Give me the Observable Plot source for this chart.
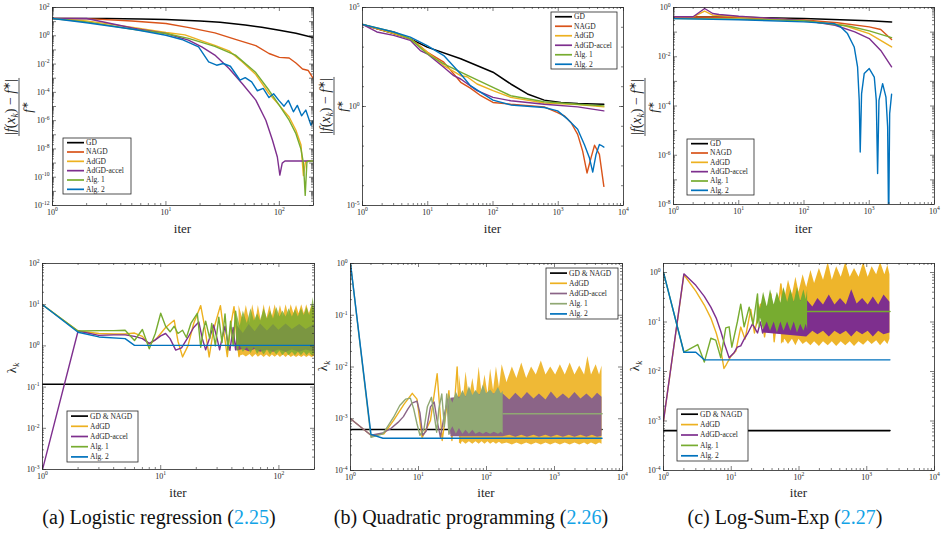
<!DOCTYPE html>
<html>
<head>
<meta charset="utf-8">
<script src="https://cdn.jsdelivr.net/npm/d3@7"></script>
<script src="https://cdn.jsdelivr.net/npm/@observablehq/plot@0.6"></script>
<style>
  html,body{margin:0;padding:0;background:#fff;}
  #root{position:relative;width:941px;height:535px;overflow:hidden;background:#fff;}
  #root > svg{position:absolute;}
</style>
</head>
<body>
<div id="root"></div>
<script>
// ---------------- DATA (iteration, value) ----------------
// (a) Logistic regression: relative error
const a_GD    = [[1,16.6],[3,16.4],[6,15.5],[10,14],[20,11],[30,9],[50,5.8],[70,4],[100,2.5],[140,1.5],[200,0.75]];
const a_NAGD  = [[1,16.6],[2,16.3],[5,11],[10,7.4],[16,3.8],[27,1.6],[41,0.55],[62,0.2],[81,0.056],[100,0.03],[122,0.027],[140,0.012],[160,0.0045],[180,0.0035],[200,0.0009]];
const a_AdGD  = [[1,16.6],[2,11.4],[5.3,3.8],[10,1.7],[14.7,1.17],[18,0.65],[20.7,0.44],[27,0.21],[36,0.086],[47,0.0144],[62,0.0018],[81,8.3e-5],[100,1.2e-5],[122,1.8e-6],[140,2.1e-7],[155,2e-8],[163,1.3e-10],[170,1.2e-9],[180,1.4e-9],[200,1.4e-9]];
const a_ACC   = [[1,16.6],[2,16.6],[5.3,3.3],[10,1.45],[15.8,0.49],[20.7,0.165],[27,0.043],[36,0.0048],[47,4.2e-4],[62,2.8e-5],[76,1.07e-6],[87,4.1e-8],[96,2.7e-9],[101,1.4e-10],[106,1e-9],[112,1.4e-9],[200,1.4e-9]];
const a_ALG1  = [[1,16.6],[2,9.7],[5.3,2.8],[10,1.45],[15.8,0.65],[27,0.18],[41,0.043],[62,0.0025],[81,1.4e-4],[100,1.2e-5],[122,1.07e-6],[140,1.2e-7],[155,1e-8],[163,1e-9],[169,5.2e-12],[175,1.2e-9],[185,1.4e-9],[200,1.4e-9]];
const a_ALG2  = [[1,16.6],[2,8.3],[5.3,2.8],[10,1.1],[13.8,0.55],[19.4,0.165],[23.8,0.0144],[28,0.0083],[32,0.011],[37,0.007],[45,7.2e-4],[50,0.0011],[57,5.5e-4],[64,1.3e-4],[72,1.9e-4],[81,4.3e-5],[89,8e-5],[99,2.7e-5],[110,1.05e-5],[120,2.7e-5],[133,4.2e-6],[144,1.2e-5],[157,2.2e-6],[171,5.6e-6],[190,4.7e-7],[200,1.07e-6]];

// (b) Quadratic programming: relative error
const b_GD    = [[1,1.4e4],[3,4.8e3],[5.4,2.6e3],[9.8,1.0e3],[32,257],[100,54],[187,13.7],[337,4.3],[609,2.1],[1100,1.6],[2000,1.4],[5000,1.3]];
const b_NAGD  = [[1,1.4e4],[1.66,8.5e3],[3,5.8e3],[5.4,2.6e3],[6.9,1.48e3],[9.8,560],[17.6,174],[32,16.7],[45,8.5],[65,3.5],[100,1.6],[187,1.3],[609,0.96],[977,0.49],[1237,0.34],[1567,0.155],[1983,0.039],[2366,0.0056],[2760,4.4e-4],[3184,0.0026],[3600,0.011],[4274,0.0038],[5000,9.3e-5]];
const b_AdGD  = [[1,1.4e4],[3,4.8e3],[5.4,2.6e3],[9.8,560],[17.6,117],[32,36],[40,32],[57,13.7],[100,6.3],[187,2.9],[609,1.5],[1983,1.25],[5000,0.96]];
const b_ACC   = [[1,1.4e4],[1.66,5.8e3],[3,3.9e3],[5.4,2.2e3],[7.7,670],[9.8,460],[17.6,96],[25,36],[32,24.5],[57,6.3],[100,2.9],[187,1.95],[609,1.3],[1983,0.96],[5000,0.6]];
const b_ALG1  = [[1,1.4e4],[3,5.8e3],[5.4,2.6e3],[9.8,460],[17.6,142],[32,54],[57,22],[100,9.3],[187,3.5],[609,1.73],[1983,1.3],[5000,1.07]];
const b_ALG2  = [[1,1.4e4],[3,5.8e3],[5.4,3.2e3],[9.8,1.2e3],[17.6,375],[32,44],[45,11.3],[65,5.2],[100,2.1],[187,1.2],[609,0.89],[977,0.6],[1393,0.23],[1983,0.071],[2512,0.012],[3000,0.0026],[3376,4.9e-4],[3796,0.0038],[4274,0.012],[4530,0.011],[5000,0.0089]];

// (c) Log-Sum-Exp: relative error
const c_GD    = [[1,0.42],[10,0.40],[100,0.36],[1000,0.29],[2200,0.26]];
const c_NAGD  = [[1,0.42],[10,0.39],[100,0.31],[324,0.24],[1000,0.163],[1500,0.128],[2200,0.05]];
const c_AdGD  = [[1,0.42],[2,0.42],[3,0.71],[4,0.49],[10,0.42],[100,0.29],[400,0.19],[1000,0.087],[2200,0.025]];
const c_ACC   = [[1,0.42],[2,0.42],[3,0.91],[4,0.57],[5,0.52],[10,0.44],[100,0.30],[300,0.19],[600,0.102],[1000,0.055],[1500,0.018],[2200,0.0039]];
const c_ALG1  = [[1,0.355],[10,0.34],[100,0.29],[500,0.174],[1000,0.112],[2200,0.06]];
const c_ALG2  = [[1,0.355],[10,0.32],[100,0.26],[290,0.22],[366,0.163],[464,0.087],[588,0.025],[662,0.0039],[702,1.7e-4],[727,1.35e-6],[763,3.2e-4],[838,2.1e-3],[1000,3.3e-3],[1194,1.5e-3],[1282,1.7e-4],[1343,1.8e-7],[1409,1.7e-4],[1603,8.1e-4],[1803,2.3e-4],[1914,1.4e-5],[1983,1e-9],[2055,4.9e-5],[2200,3e-4]];

// (d) Logistic regression: step size lambda_k   (bands: [iter, low, high] of the dense oscillation)
const d_GD        = [[1,0.117],[200,0.117]];
const d_AdGD      = [[1,10],[2,2.3],[3,2.0],[4,1.95],[5,1.95],[6,2.05],[7,1.7],[8,1.1],[9,1.4],[10,2.0],[11,2.8],[13,4.2],[14,1.3],[15.3,0.54],[17,1.0],[19,3.5],[21.8,9.5],[23.5,3],[25.7,0.54],[28,2.5],[32,9.5],[34,2.5],[36.6,0.55],[39,3],[41.7,9],[44,1.5],[46,0.55],[49,5]];
const d_AdGD_band = [[46,0.55,9.5],[50,0.6,4],[53,0.54,9.5],[57,0.62,3.5],[60,0.52,10],[64,0.62,4],[67,0.53,9.5],[71,0.6,4],[75,0.52,10],[79,0.6,4.5],[84,0.52,9.5],[88,0.6,5],[93,0.53,10],[98,0.6,5],[103,0.52,9.5],[109,0.6,5],[115,0.52,10],[121,0.6,5.5],[127,0.52,10],[134,0.58,6],[141,0.52,9.5],[148,0.58,6],[156,0.52,10],[164,0.58,6],[172,0.52,10],[181,0.58,6],[190,0.52,9.5],[200,0.55,8]];
const d_ACC       = [[1,0.001],[2,2.3],[3,1.8],[4,1.85],[5,1.85],[6,1.7],[7,1.5],[8,1.15],[9,1.4],[10,1.75],[11,2.0],[12,1.5],[13.4,0.79],[15,0.9],[17,1.6],[19,2.8],[21,3.8],[22.5,1.5],[24,0.8],[26,1.6],[28,3.2],[30,1.5],[31.5,0.8],[33,1.5],[35,3.0],[37,1.2],[38.5,0.78],[41,2.8],[43,0.8],[45,2.5]];
const d_ACC_band  = [[44,0.75,3.2],[50,0.82,2],[56,0.72,3.3],[63,0.82,2.2],[70,0.7,3.4],[80,0.8,2.3],[90,0.7,3.3],[100,0.8,2.4],[115,0.7,3.4],[130,0.8,2.5],[150,0.7,3.3],[170,0.8,2.5],[200,0.7,3.3]];
const d_ALG1      = [[1,10],[2,2.3],[3,2.35],[4,2.35],[5,2.4],[6,1.35],[7,2.5],[8,0.85],[9,2.0],[10,6.2],[11,3.0],[12,2.2],[13,3.0],[14,2.0],[15.3,2.4],[16.5,1.6],[18,3.5],[20.4,6.2],[21.8,0.93],[23,2.5],[24,4],[26,1.5],[27,3.5],[29,1.0],[31,5],[33,1.2],[35,6],[37,0.8],[39,4],[41,1],[43,7],[45,0.8]];
const d_ALG1_band = [[44,0.8,6.5],[47,1.0,3],[50,0.7,7],[54,0.9,3.5],[58,0.65,8],[62,0.9,4],[66,0.62,6],[70,0.8,4],[75,0.6,8],[80,0.8,4.5],[85,0.6,7],[90,0.75,4.5],[96,0.6,8.5],[102,0.75,5],[108,0.58,7],[115,0.72,5],[122,0.58,8],[130,0.7,5],[138,0.58,7.5],[146,0.7,5],[155,0.58,8],[164,0.7,5.5],[173,0.58,8.5],[182,0.68,5.5],[190,0.58,9],[195,0.6,15],[200,0.62,8]];
const d_ALG2      = [[1,10],[2,2.15],[3,1.65],[5,1.5],[6,1.03],[200,1.03]];

// (e) Quadratic programming: step size lambda_k
const e_GD        = [[1,6.2e-4],[5000,6.2e-4]];
const e_AdGD      = [[1,1e-3],[2,4.8e-4],[3.1,5.1e-4],[4.3,9.3e-4],[6.1,1.9e-3],[8.1,3.1e-3],[9.5,2.4e-3],[11.3,4.3e-4],[15,9.3e-4],[18.8,7.4e-3],[22.3,3.8e-4],[28,3.5e-3],[31,3.8e-4],[37,1e-2],[41.5,3.4e-4]];
const e_AdGD_band = [[40,3.3e-4,7e-3],[45,3.6e-4,2e-3],[50,3.2e-4,8e-3],[56,3.6e-4,2.5e-3],[63,3.2e-4,6e-3],[70,3.6e-4,2.5e-3],[78,3.2e-4,1e-2],[86,3.6e-4,3e-3],[95,3.2e-4,7e-3],[105,3.6e-4,3e-3],[115,3.2e-4,9e-3],[127,3.5e-4,3.5e-3],[140,3.2e-4,1e-2],[155,3.5e-4,4e-3],[170,3.2e-4,1.1e-2],[200,3.4e-4,5e-3],[240,3.1e-4,1e-2],[280,3.4e-4,6e-3],[330,3.1e-4,1.2e-2],[390,3.4e-4,6e-3],[460,3.1e-4,1e-2],[540,3.4e-4,7e-3],[640,3.1e-4,1.3e-2],[750,3.4e-4,7e-3],[880,3.1e-4,1e-2],[1040,3.4e-4,7e-3],[1220,3.1e-4,1.1e-2],[1440,3.4e-4,7e-3],[1700,3.1e-4,1.2e-2],[2000,3.4e-4,7e-3],[2350,3.1e-4,1.05e-2],[2770,3.4e-4,7e-3],[3100,3.1e-4,1.6e-2],[3500,3.4e-4,7e-3],[4100,3.1e-4,1.1e-2],[4600,3.4e-4,7e-3],[5000,3.2e-4,1.05e-2]];
const e_ACC       = [[1,1e-3],[2,4.8e-4],[3,5.3e-4],[4,6.6e-4],[5,8.5e-4],[6,1.1e-3],[7,1.55e-3],[8,2e-3],[9.5,2.2e-3],[10.5,1.3e-3],[11.5,4.8e-4],[13,5.8e-4],[15,1.7e-3],[17,2.1e-3],[19,8.4e-4],[21,4.4e-4],[24,1.2e-3],[27,2.4e-3],[29,5.2e-4],[32,2e-3]];
const e_ACC_band  = [[30,4.5e-4,2.5e-3],[100,4.5e-4,3e-3],[176,4.5e-4,3e-3],[220,4.8e-4,2.3e-3],[270,4.4e-4,3.1e-3],[330,4.8e-4,2.4e-3],[400,4.4e-4,3.2e-3],[500,4.8e-4,2.4e-3],[600,4.4e-4,3e-3],[750,4.8e-4,2.3e-3],[900,4.4e-4,3.3e-3],[1100,4.8e-4,2.4e-3],[1350,4.4e-4,3e-3],[1650,4.8e-4,2.4e-3],[2000,4.4e-4,3.2e-3],[2450,4.8e-4,2.4e-3],[3000,4.4e-4,3e-3],[3600,4.8e-4,2.4e-3],[4300,4.4e-4,3.1e-3],[5000,4.6e-4,2.6e-3]];
const e_ALG1      = [[1,1],[2,4.4e-4],[3,5.1e-4],[4.3,1.07e-3],[5.3,1.8e-3],[6.5,2.4e-3],[7.6,2.5e-3],[8.5,1.55e-3],[9.5,8e-4],[10.5,4.8e-4],[12,6.2e-4],[13.5,1.7e-3],[15.5,2.6e-3],[17,1.2e-3],[18.5,5.5e-4],[20,1.6e-3],[22,3e-3],[24,7e-4],[26,3e-3],[28,5e-4]];
const e_ALG1_band = [[28,5e-4,3e-3],[32,7e-4,2e-3],[36,5e-4,3.3e-3],[40,6.5e-4,2.4e-3],[45,5e-4,3.5e-3],[50,6e-4,2.6e-3],[56,5e-4,4.2e-3],[63,6e-4,2.8e-3],[70,5e-4,3.5e-3],[80,5.5e-4,2.8e-3],[90,5e-4,4.5e-3],[100,5.5e-4,3e-3],[115,5e-4,3.6e-3],[130,5.5e-4,2.9e-3],[150,5e-4,4e-3],[165,5.5e-4,3e-3],[176,5e-4,3.4e-3]];
const e_ALG1_tail = [[176,1.25e-3],[5000,1.25e-3]];
const e_ALG2      = [[1,1],[2,5e-4],[3,4.2e-4],[5000,4.2e-4]];

// (f) Log-Sum-Exp: step size lambda_k
const f_GD        = [[1,6.4e-4],[2200,6.4e-4]];
const f_AdGD      = [[1,1e-3],[2,0.9],[3,0.42],[4,0.22],[5,0.12],[6,0.06],[7,0.028],[7.8,0.0115],[8.5,0.014],[9.8,0.02],[11.7,0.026],[13.8,0.079],[16,0.045],[19.4,0.18],[22,0.06],[27,0.23],[31,0.05],[38.5,0.37],[43,0.04],[54,0.59],[58,0.04]];
const f_AdGD_band = [[55,0.035,0.6],[62,0.045,0.3],[70,0.035,0.7],[80,0.045,0.35],[90,0.033,0.8],[100,0.045,0.4],[115,0.035,0.9],[130,0.04,0.5],[150,0.033,1.1],[170,0.04,0.6],[200,0.032,1.2],[230,0.04,0.7],[270,0.033,1.6],[310,0.04,0.7],[360,0.032,1.3],[420,0.04,0.8],[490,0.033,1.6],[570,0.04,0.8],[660,0.032,1.2],[770,0.04,0.8],[900,0.034,1.6],[1050,0.042,0.8],[1200,0.035,1.3],[1400,0.042,0.9],[1600,0.033,1.6],[1850,0.042,0.9],[2050,0.035,1.4],[2200,0.045,0.9]];
const f_ACC       = [[1,1e-3],[2,0.94],[3,0.55],[4,0.33],[5,0.2],[6,0.12],[7,0.065],[8,0.035],[9.3,0.019],[11,0.024],[12.3,0.031],[13.8,0.033],[15.5,0.045],[17.4,0.058],[20.6,0.092],[24.4,0.06],[27,0.1],[29,0.06],[33,0.12]];
const f_ACC_band  = [[30,0.06,0.2],[130,0.05,0.28],[160,0.065,0.2],[190,0.055,0.3],[230,0.065,0.22],[280,0.05,0.35],[340,0.065,0.22],[410,0.055,0.3],[500,0.065,0.22],[600,0.05,0.45],[720,0.065,0.23],[870,0.055,0.3],[1050,0.065,0.22],[1250,0.05,0.32],[1500,0.065,0.22],[1800,0.055,0.35],[2200,0.06,0.25]];
const f_ALG1      = [[1,1],[2,0.0245],[3.2,0.035],[4,0.0155],[5,0.047],[5.9,0.043],[7,0.019],[8.3,0.076],[9.3,0.08],[10.2,0.031],[12.3,0.1],[13.8,0.23],[15.5,0.08],[18.4,0.2],[21,0.09],[24.4,0.37],[26,0.08]];
const f_ALG1_band = [[24,0.08,0.3],[27,0.12,0.18],[30,0.07,0.4],[34,0.1,0.2],[38,0.065,0.45],[43,0.1,0.22],[48,0.06,0.4],[54,0.1,0.24],[60,0.065,0.5],[68,0.1,0.25],[76,0.065,0.45],[85,0.1,0.25],[95,0.06,0.5],[106,0.09,0.26],[118,0.065,0.45],[128,0.09,0.28],[134,0.07,0.45]];
const f_ALG1_tail = [[134,0.163],[2200,0.163]];
const f_ALG2      = [[1,1],[2,0.0245],[3,0.0245],[4,0.0172],[2200,0.0172]];

// legend / caption text
const topNames    = ["GD","NAGD","AdGD","AdGD-accel","Alg. 1","Alg. 2"];
const bottomNames = ["GD & NAGD","AdGD","AdGD-accel","Alg. 1","Alg. 2"];
const captionText = [["(a) Logistic regression (","2.25",")"],["(b) Quadratic programming (","2.26",")"],["(c) Log-Sum-Exp (","2.27",")"]];

// ---------------- STYLE ----------------
const FONT = '"Liberation Serif", serif';
const AX = "#262626";
const C = {GD:"#000000", NAGD:"#D95319", AdGD:"#EDB120", ACC:"#7E2F8E", ALG1:"#77AC30", ALG2:"#0072BD"};
const CE = {ACC:"#8B6487", ALG1:"#90A873"};

const dec = (a,b) => d3.range(a,b+1).map(k => Math.pow(10,k));
const minors = (a,b,max=Infinity) => { const out=[]; for(let k=a;k<b;k++) for(let m=2;m<=9;m++){const v=m*Math.pow(10,k); if(v<=max*1.0001) out.push(v);} return out; };
const L = (data,color,width=1.4) => ({type:"line",data,color,width});
const B = (data,color,opacity=1) => ({type:"band",data,color,opacity});

const panels = [
 {box:{l:52,t:7,r:313,b:205}, xd:[1,200], yd:[1e-12,1e2],
  xLab:dec(0,2), yLab:[1e-12,1e-10,1e-8,1e-6,1e-4,1e-2,1,1e2],
  xMaj:dec(0,2), xMin:minors(0,3,200), yMaj:dec(-12,2), yMin:minors(-12,2),
  layers:[L(a_GD,C.GD,1.5),L(a_NAGD,C.NAGD),L(a_AdGD,C.AdGD),L(a_ACC,C.ACC),L(a_ALG1,C.ALG1),L(a_ALG2,C.ALG2)]},
 {box:{l:362,t:7,r:623,b:205}, xd:[1,1e4], yd:[1e-5,1e5],
  xLab:dec(0,4), yLab:[1e-5,1,1e5],
  xMaj:dec(0,4), xMin:minors(0,4), yMaj:[1e-5,1,1e5], yMin:dec(-5,5),
  layers:[L(b_GD,C.GD,1.5),L(b_NAGD,C.NAGD),L(b_AdGD,C.AdGD),L(b_ACC,C.ACC),L(b_ALG1,C.ALG1),L(b_ALG2,C.ALG2)]},
 {box:{l:673,t:7,r:934,b:204}, xd:[1,1e4], yd:[1e-8,1],
  xLab:dec(0,4), yLab:[1e-8,1e-6,1e-4,1e-2,1],
  xMaj:dec(0,4), xMin:minors(0,4), yMaj:dec(-8,0), yMin:minors(-8,0),
  layers:[L(c_GD,C.GD,1.5),L(c_NAGD,C.NAGD),L(c_AdGD,C.AdGD),L(c_ACC,C.ACC),L(c_ALG1,C.ALG1),L(c_ALG2,C.ALG2)]},
 {box:{l:42,t:263,r:314,b:469}, xd:[1,200], yd:[1e-3,1e2],
  xLab:dec(0,2), yLab:dec(-3,2),
  xMaj:dec(0,2), xMin:minors(0,3,200), yMaj:dec(-3,2), yMin:minors(-3,2),
  layers:[L(d_GD,C.GD,1.6),B(d_AdGD_band,C.AdGD,0.9),L(d_AdGD,C.AdGD),B(d_ACC_band,C.ACC,0.9),L(d_ACC,C.ACC),B(d_ALG1_band,C.ALG1,0.8),L(d_ALG1,C.ALG1),L(d_ALG2,C.ALG2)]},
 {box:{l:350,t:263,r:622,b:470}, xd:[1,1e4], yd:[1e-4,1],
  xLab:dec(0,4), yLab:dec(-4,0),
  xMaj:dec(0,4), xMin:minors(0,4), yMaj:dec(-4,0), yMin:minors(-4,0),
  layers:[L(e_GD,C.GD,1.6),B(e_AdGD_band,C.AdGD,0.9),L(e_AdGD,C.AdGD),B(e_ACC_band,CE.ACC,1),L(e_ACC,CE.ACC),B(e_ALG1_band,CE.ALG1,1),L(e_ALG1,CE.ALG1),L(e_ALG1_tail,CE.ALG1,1.6),L(e_ALG2,C.ALG2)]},
 {box:{l:663,t:263,r:934,b:470}, xd:[1,1e4], yd:[1e-4,1.52],
  xLab:dec(0,4), yLab:dec(-4,0),
  xMaj:dec(0,4), xMin:minors(0,4), yMaj:dec(-4,0), yMin:minors(-4,0),
  layers:[L(f_GD,C.GD,1.6),B(f_AdGD_band,C.AdGD,0.95),L(f_AdGD,C.AdGD),B(f_ACC_band,C.ACC,1),L(f_ACC,C.ACC),B(f_ALG1_band,C.ALG1,1),L(f_ALG1,C.ALG1),L(f_ALG1_tail,C.ALG1,1.6),L(f_ALG2,C.ALG2)]}
];

const root = document.getElementById("root");
const NS = "http://www.w3.org/2000/svg";
const fmt = d => "10^" + Math.round(Math.log10(d));

function supify(svg){
  svg.querySelectorAll("text").forEach(t => {
    const m = /^10\^(-?\d+)$/.exec(t.textContent.trim());
    if (!m) return;
    while (t.firstChild) t.removeChild(t.firstChild);
    const a = document.createElementNS(NS,"tspan"); a.textContent = "10";
    const b = document.createElementNS(NS,"tspan"); b.textContent = m[1];
    b.setAttribute("font-size","5.6"); b.setAttribute("dy","-3.3");
    t.appendChild(a); t.appendChild(b);
  });
}

function renderPanel(p){
  const ML=36, MR=10, MT=6, MB=24;
  const w = p.box.r - p.box.l, h = p.box.b - p.box.t;
  const marks = [];
  for (const ly of p.layers) {
    if (ly.type === "band") {
      marks.push(Plot.areaY(ly.data, {x: d=>d[0], y1: d=>d[1], y2: d=>d[2], fill: ly.color, fillOpacity: ly.opacity, clip: true}));
    } else {
      marks.push(Plot.line(ly.data, {x: d=>d[0], y: d=>d[1], stroke: ly.color, strokeWidth: ly.width, clip: true}));
    }
  }
  const tk = {stroke: AX, strokeWidth: 0.6};
  const MJ = 4, MN = 2;
  marks.push(
    Plot.tickX(p.xMaj, {x: d=>d, insetTop: h-MJ, ...tk}),
    Plot.tickX(p.xMaj, {x: d=>d, insetBottom: h-MJ, ...tk}),
    Plot.tickX(p.xMin, {x: d=>d, insetTop: h-MN, ...tk}),
    Plot.tickX(p.xMin, {x: d=>d, insetBottom: h-MN, ...tk}),
    Plot.tickY(p.yMaj, {y: d=>d, insetRight: w-MJ, ...tk}),
    Plot.tickY(p.yMaj, {y: d=>d, insetLeft: w-MJ, ...tk}),
    Plot.tickY(p.yMin, {y: d=>d, insetRight: w-MN, ...tk}),
    Plot.tickY(p.yMin, {y: d=>d, insetLeft: w-MN, ...tk}),
    Plot.frame({stroke: AX, strokeWidth: 0.8}),
    Plot.text(p.xLab, {x: d=>d, frameAnchor: "bottom", dy: 9, text: fmt, fontSize: 8, fill: AX}),
    Plot.text(p.yLab, {y: d=>d, frameAnchor: "left", dx: -3, textAnchor: "end", text: fmt, fontSize: 8, fill: AX})
  );
  const svg = Plot.plot({
    width: w+ML+MR, height: h+MT+MB,
    marginLeft: ML, marginRight: MR, marginTop: MT, marginBottom: MB,
    x: {type: "log", domain: p.xd, axis: null},
    y: {type: "log", domain: p.yd, axis: null},
    style: {background: "transparent", fontFamily: FONT, overflow: "visible"},
    marks
  });
  svg.style.left = (p.box.l - ML) + "px";
  svg.style.top = (p.box.t - MT) + "px";
  root.appendChild(svg);
  supify(svg);
}
panels.forEach(renderPanel);

// ---------------- overlay: legends, axis titles, captions ----------------
const ov = d3.select(root).append("svg").attr("width",941).attr("height",535)
  .style("left","0px").style("top","0px").style("font-family",FONT);

function legend(box, names, colors){
  const [x0,y0,x1,y1] = box;
  const g = ov.append("g");
  g.append("rect").attr("x",x0).attr("y",y0).attr("width",x1-x0).attr("height",y1-y0)
    .attr("fill","#fff").attr("stroke",AX).attr("stroke-width",0.8);
  const step = (y1-y0)/names.length;
  names.forEach((nm,i) => {
    const cy = y0 + step*(i+0.5);
    g.append("line").attr("x1",x0+4).attr("x2",x0+21).attr("y1",cy).attr("y2",cy)
      .attr("stroke",colors[i]).attr("stroke-width",1.7);
    g.append("text").attr("x",x0+23).attr("y",cy).attr("dy","0.33em")
      .attr("font-size",7.5).attr("fill",AX).text(nm);
  });
}
const topColors = [C.GD,C.NAGD,C.AdGD,C.ACC,C.ALG1,C.ALG2];
legend([63,138,131,194], topNames, topColors);
legend([551,12,617,69], topNames, topColors);
legend([687,139,754,195], topNames, topColors);
legend([67,411,138,462], bottomNames, [C.GD,C.AdGD,C.ACC,C.ALG1,C.ALG2]);
legend([546,268,618,319], bottomNames, [C.GD,C.AdGD,CE.ACC,CE.ALG1,C.ALG2]);
legend([677,409,748,461], bottomNames, [C.GD,C.AdGD,C.ACC,C.ALG1,C.ALG2]);

function fracLabel(cx, cy){
  const g = ov.append("g").attr("transform",`translate(${cx},${cy}) rotate(-90)`).attr("fill",AX);
  const num = g.append("text").attr("text-anchor","middle").attr("y",-4).attr("font-size",14);
  num.append("tspan").text("|");
  num.append("tspan").attr("font-style","italic").text("f");
  num.append("tspan").text("(");
  num.append("tspan").attr("font-style","italic").text("x");
  num.append("tspan").attr("font-style","italic").attr("font-size",9.5).attr("dy",3).text("k");
  num.append("tspan").attr("dy",-3).text(") − ");
  num.append("tspan").attr("font-style","italic").text("f");
  num.append("tspan").attr("font-size",9.5).attr("dy",-5).text("∗");
  num.append("tspan").attr("dy",5).text("|");
  const den = g.append("text").attr("text-anchor","middle").attr("y",13).attr("font-size",13);
  den.append("tspan").attr("font-style","italic").text("f");
  den.append("tspan").attr("font-size",9).attr("dy",-4.5).text("∗");
  const nw = num.node().getComputedTextLength();
  g.append("line").attr("x1",-nw/2-1).attr("x2",nw/2+1).attr("y1",0).attr("y2",0)
    .attr("stroke",AX).attr("stroke-width",0.8);
}
fracLabel(19,107); fracLabel(334,106); fracLabel(645,107);

function lamLabel(cx, cy){
  const t = ov.append("text").attr("transform",`translate(${cx},${cy}) rotate(-90)`)
    .attr("text-anchor","middle").attr("font-size",13).attr("fill",AX);
  t.append("tspan").text("λ");
  t.append("tspan").attr("font-style","italic").attr("font-size",9).attr("dy",3).text("k");
}
lamLabel(16,368); lamLabel(327,366); lamLabel(639,366);

panels.forEach((p,i) => {
  ov.append("text").attr("x",(p.box.l+p.box.r)/2).attr("y", i<3 ? 228 : 492)
    .attr("dy","0.35em").attr("text-anchor","middle").attr("font-size",13).attr("fill",AX).text("iter");
});

const capX = [159,471,785];
captionText.forEach(([pre,num,post],i) => {
  const t = ov.append("text").attr("x",capX[i]).attr("y",524).attr("text-anchor","middle")
    .attr("font-size",20).attr("fill","#111");
  t.append("tspan").text(pre);
  t.append("tspan").attr("fill","#12A3E6").text(num);
  t.append("tspan").text(post);
});
</script>
</body>
</html>
